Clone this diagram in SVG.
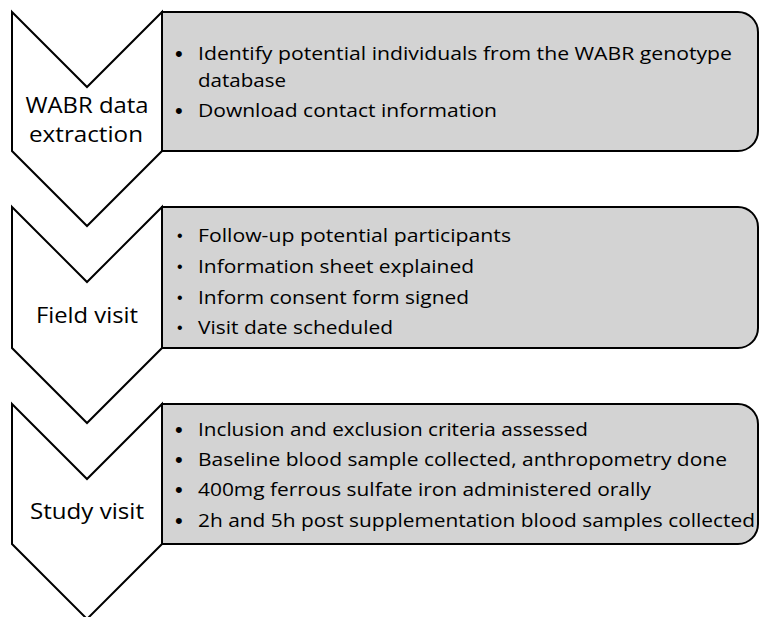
<svg xmlns="http://www.w3.org/2000/svg" width="760" height="617" viewBox="0 0 760 617">
<style>
.chev{fill:#ffffff;stroke:#000;stroke-width:2;stroke-linejoin:miter}
.box{fill:#d3d3d3;stroke:#000;stroke-width:2}
.lbl{font-family:"Open Sans","Liberation Sans",sans-serif;font-size:22px;fill:#000;text-anchor:middle}
.t{font-family:"Open Sans","Liberation Sans",sans-serif;font-size:19px;fill:#000}
.b{font-family:"Liberation Sans",sans-serif;font-size:22px;fill:#000}
.bs{font-family:"Liberation Sans",sans-serif;font-size:16px;fill:#000}
</style>
<rect width="760" height="617" fill="#ffffff"/>
<g id="step1">
<path class="chev" d="M12,12 L87,87 L162,12 V151 L87,226 L12,151 Z"/>
<text class="lbl" x="87" y="113" textLength="123" lengthAdjust="spacingAndGlyphs">WABR data</text>
<text class="lbl" x="86" y="142" textLength="114" lengthAdjust="spacingAndGlyphs">extraction</text>
</g>
<g id="box1">
<path class="box" d="M162,12 H738 A20,20 0 0 1 758,32 V131 A20,20 0 0 1 738,151 H162 Z"/>
<text class="b" x="175" y="61">•</text>
<text class="t" x="198" y="60" textLength="534" lengthAdjust="spacingAndGlyphs">Identify potential individuals from the WABR genotype</text>
<text class="t" x="198" y="87" textLength="88" lengthAdjust="spacingAndGlyphs">database</text>
<text class="b" x="175" y="118">•</text>
<text class="t" x="198" y="117" textLength="299" lengthAdjust="spacingAndGlyphs">Download contact information</text>
</g>
<g id="step2">
<path class="chev" d="M12,207 L87,282 L162,207 V348 L87,423 L12,348 Z"/>
<text class="lbl" x="87" y="323" textLength="102" lengthAdjust="spacingAndGlyphs">Field visit</text>
</g>
<g id="box2">
<path class="box" d="M162,207 H738 A20,20 0 0 1 758,227 V328 A20,20 0 0 1 738,348 H162 Z"/>
<text class="bs" x="177" y="241">•</text>
<text class="t" x="198" y="242" textLength="313" lengthAdjust="spacingAndGlyphs">Follow-up potential participants</text>
<text class="bs" x="177" y="272">•</text>
<text class="t" x="198" y="273" textLength="276" lengthAdjust="spacingAndGlyphs">Information sheet explained</text>
<text class="bs" x="177" y="303">•</text>
<text class="t" x="198" y="304" textLength="271" lengthAdjust="spacingAndGlyphs">Inform consent form signed</text>
<text class="bs" x="177" y="333">•</text>
<text class="t" x="198" y="334" textLength="195" lengthAdjust="spacingAndGlyphs">Visit date scheduled</text>
</g>
<g id="step3">
<path class="chev" d="M12,404 L87,479 L162,404 V544 L87,619 L12,544 Z"/>
<text class="lbl" x="87" y="519" textLength="114" lengthAdjust="spacingAndGlyphs">Study visit</text>
</g>
<g id="box3">
<path class="box" d="M162,404 H738 A20,20 0 0 1 758,424 V524 A20,20 0 0 1 738,544 H162 Z"/>
<text class="b" x="175" y="437">•</text>
<text class="t" x="198" y="436" textLength="390" lengthAdjust="spacingAndGlyphs">Inclusion and exclusion criteria assessed</text>
<text class="b" x="175" y="467">•</text>
<text class="t" x="198" y="466" textLength="529" lengthAdjust="spacingAndGlyphs">Baseline blood sample collected, anthropometry done</text>
<text class="b" x="175" y="497">•</text>
<text class="t" x="198" y="496" textLength="453" lengthAdjust="spacingAndGlyphs">400mg ferrous sulfate iron administered orally</text>
<text class="b" x="175" y="528">•</text>
<text class="t" x="198" y="527" textLength="557" lengthAdjust="spacingAndGlyphs">2h and 5h post supplementation blood samples collected</text>
</g>
<g id="connectors"></g>
</svg>
